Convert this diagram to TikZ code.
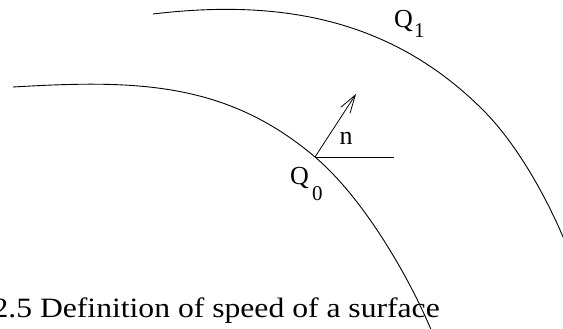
\documentclass[tikz,border=0pt]{standalone}
\usepackage{fontspec}
\setmainfont{Liberation Serif}
\usetikzlibrary{arrows.meta}
\begin{document}
\begin{tikzpicture}[x=1pt,y=-1pt,
  curve/.style={line width=0.9pt},
  lbl/.style={inner sep=0pt,font=\fontsize{26}{28}\selectfont},
  sub/.style={inner sep=0pt,font=\fontsize{21}{22}\selectfont}]
\useasboundingbox (0,0) rectangle (563,329);
\begin{scope}
\clip (0,0) rectangle (563,329);
% surface Q1
\draw[curve] (153,14) .. controls (283,-1.6) and (393,20) .. (483,110)
  .. controls (518,145) and (548,200) .. (566,244);
% surface Q0
\draw[curve] (13,87) .. controls (133,80) and (225,80.5) .. (315,157)
  .. controls (365,199.5) and (410.5,280) .. (432,332);
% caption
\node[inner sep=0pt,font=\fontsize{28}{30}\selectfont,anchor=base east] (cap) at (440,317) {\scalebox{1.13}[1]{2.5 Definition of speed of a surface}};
\end{scope}
\coordinate (P) at (315,157);
\coordinate (T) at (356,94);
\coordinate (H) at (394,157);
\draw[line width=0.8pt,-{Straight Barb[length=18pt,width=11pt,line width=0.8pt]}] (P) -- (T);
\draw[line width=0.7pt] (P) -- (H);
\node[lbl,anchor=base] (n) at (346,145) {n};
\node[lbl,anchor=base west] (q0) at (290,184) {Q};
\node[sub,anchor=base west] (q0s) at (312,200) {0};
\node[lbl,anchor=base west] (q1) at (394,28) {Q};
\node[sub,anchor=base west] (q1s) at (414,38) {1};
\end{tikzpicture}
\end{document}
